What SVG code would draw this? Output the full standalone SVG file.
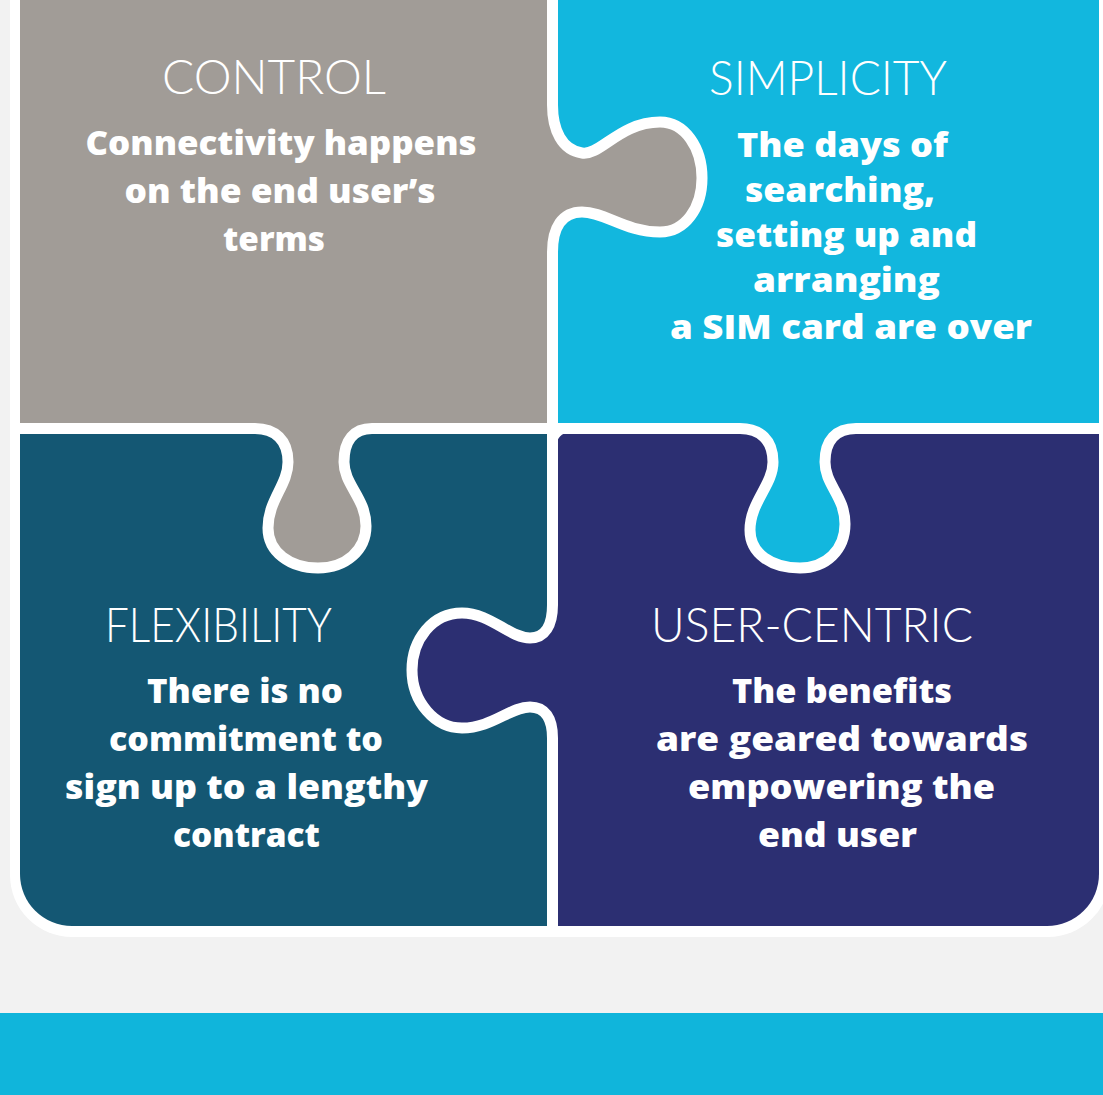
<svg xmlns="http://www.w3.org/2000/svg" width="1103" height="1095" viewBox="0 0 1103 1095">
<style>
.title{font-family:Lato,"Liberation Sans",sans-serif;font-weight:300;font-size:48px;fill:#fff;text-anchor:middle}
.body{font-family:"Open Sans","Liberation Sans",sans-serif;font-weight:800;font-size:33px;fill:#fff;text-anchor:middle}
.cut{fill:none;stroke:#fff;stroke-width:11}
.gray{fill:#a19c97}.cyan{fill:#12b7de}.teal{fill:#145773}.navy{fill:#2c2f72}
</style>
<defs>
<clipPath id="frame"><rect x="20" y="-100" width="1079" height="1026" rx="52"/></clipPath>
</defs>
<rect width="1103" height="1095" fill="#f2f2f2"/>
<rect x="10" y="-100" width="1100" height="1037" rx="62" fill="#fff"/>
<g clip-path="url(#frame)">
<g id="flexibility">
<rect class="teal" x="0" y="428.5" width="552.5" height="520"/>
<text class="title" x="218.5" y="642" textLength="227" lengthAdjust="spacingAndGlyphs">FLEXIBILITY</text>
<text class="body" x="245" y="703" textLength="196" lengthAdjust="spacingAndGlyphs">There is no</text>
<text class="body" x="246" y="751" textLength="274" lengthAdjust="spacingAndGlyphs">commitment to</text>
<text class="body" x="246.5" y="799" textLength="363" lengthAdjust="spacingAndGlyphs">sign up to a lengthy</text>
<text class="body" x="246.5" y="847" textLength="147" lengthAdjust="spacingAndGlyphs">contract</text>
</g>
<g id="user-centric">
<rect class="navy" x="552.5" y="428.5" width="560" height="520"/>
<path class="navy" d="M560,605 L552.5,605 C552.5,625 545,638 530,638 C510,638 490,613 462,613 C432,613 412,640 412,670 C412,702 435,728 462,728 C492,728 510,707 530,707 C545,707 552.5,718 552.5,738 L560,738 Z"/>
<text class="title" x="812" y="642" textLength="322" lengthAdjust="spacingAndGlyphs">USER-CENTRIC</text>
<text class="body" x="842" y="703" textLength="220" lengthAdjust="spacingAndGlyphs">The benefits</text>
<text class="body" x="842" y="751" textLength="372" lengthAdjust="spacingAndGlyphs">are geared towards</text>
<text class="body" x="841.5" y="799" textLength="307" lengthAdjust="spacingAndGlyphs">empowering the</text>
<text class="body" x="837.5" y="847" textLength="159" lengthAdjust="spacingAndGlyphs">end user</text>
</g>
<g id="simplicity">
<rect class="cyan" x="552.5" y="-10" width="560" height="438.5"/>
<path class="cyan" d="M740,420 L740,428.5 C760,428.5 773,440 773,462 C773,485 750,502 750,530 C750,554 772,568 800,568 C826,568 845,550 845,524 C845,496 825,485 825,462 C825,440 836,428.5 856,428.5 L856,420 Z"/>
<text class="title" x="828" y="95" textLength="238" lengthAdjust="spacingAndGlyphs">SIMPLICITY</text>
<text class="body" x="842.5" y="157" textLength="211" lengthAdjust="spacingAndGlyphs">The days of</text>
<text class="body" x="840" y="202" textLength="190" lengthAdjust="spacingAndGlyphs">searching,</text>
<text class="body" x="846.5" y="247" textLength="261" lengthAdjust="spacingAndGlyphs">setting up and</text>
<text class="body" x="846.5" y="292" textLength="187" lengthAdjust="spacingAndGlyphs">arranging</text>
<text class="body" x="851" y="339" textLength="362" lengthAdjust="spacingAndGlyphs">a SIM card are over</text>
</g>
<g id="control">
<rect class="gray" x="0" y="-10" width="552.5" height="438.5"/>
<path class="gray" d="M545,100 L552.5,100 L552.5,105 C552.5,130 562,150 582,153 C600,156 620,122 660,122 C685,122 702,148 702,178 C702,208 685,232 660,232 C625,232 605,212 582,212 C562,212 552.5,228 552.5,252 L545,252 Z"/>
<path class="gray" d="M255,420 L255,428.5 C275,428.5 288,440 288,462 C288,485 268,500 268,528 C268,552 290,568 318,568 C346,568 366,550 366,526 C366,498 344,485 344,462 C344,440 354,428.5 372,428.5 L372,420 Z"/>
<text class="title" x="274" y="94" textLength="224" lengthAdjust="spacingAndGlyphs">CONTROL</text>
<text class="body" x="281" y="155" textLength="391" lengthAdjust="spacingAndGlyphs">Connectivity happens</text>
<text class="body" x="280" y="203" textLength="311" lengthAdjust="spacingAndGlyphs">on the end user’s</text>
<text class="body" x="274" y="251" textLength="102" lengthAdjust="spacingAndGlyphs">terms</text>
</g>
</g>
<g id="connectors">
<path class="cut" d="M552.5,-10 L552.5,105 C552.5,130 562,150 582,153 C600,156 620,122 660,122 C685,122 702,148 702,178 C702,208 685,232 660,232 C625,232 605,212 582,212 C562,212 552.5,228 552.5,252 L552.5,605 C552.5,625 545,638 530,638 C510,638 490,613 462,613 C432,613 412,640 412,670 C412,702 435,728 462,728 C492,728 510,707 530,707 C545,707 552.5,718 552.5,738 L552.5,930"/>
<path class="cut" d="M12,428.5 L255,428.5 C275,428.5 288,440 288,462 C288,485 268,500 268,528 C268,552 290,568 318,568 C346,568 366,550 366,526 C366,498 344,485 344,462 C344,440 354,428.5 372,428.5 L740,428.5 C760,428.5 773,440 773,462 C773,485 750,502 750,530 C750,554 772,568 800,568 C826,568 845,550 845,524 C845,496 825,485 825,462 C825,440 836,428.5 856,428.5 L1110,428.5"/>
<path d="M557,433 H568 A11,11 0 0 0 557,444 Z" fill="#fff"/>
</g>
<rect x="0" y="1013" width="1103" height="82" fill="#10b5db"/>
</svg>
